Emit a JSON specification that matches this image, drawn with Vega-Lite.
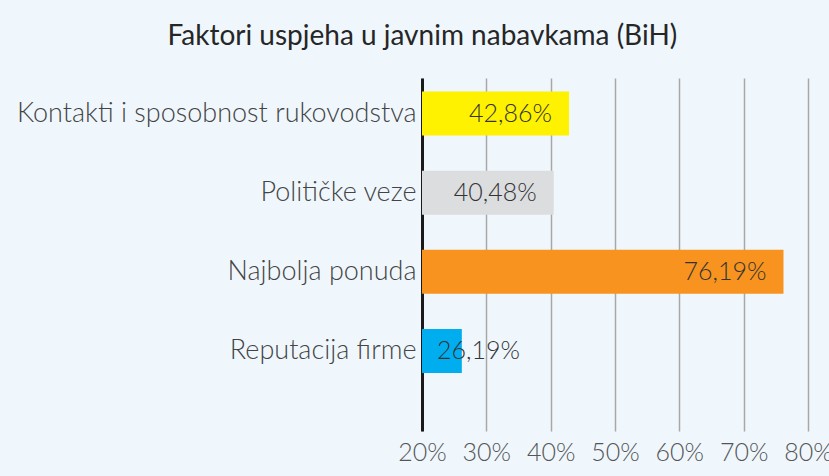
{
  "$schema": "https://vega.github.io/schema/vega-lite/v6.json",
  "autosize": "none",
  "width": 386,
  "height": 353,
  "padding": {"left": 422, "top": 78, "right": 21, "bottom": 45},
  "background": "#eff7fd",
  "config": {
    "view": {"stroke": null},
    "font": "Lato",
    "locale": {"number": {"decimal": ",", "thousands": ".", "grouping": [3], "currency": ["", " KM"]}}
  },
  "title": {
    "text": "Faktori uspjeha u javnim nabavkama (BiH)",
    "fontSize": 28,
    "fontWeight": 400,
    "font": "Lato",
    "color": "#262626",
    "anchor": "middle",
    "frame": "bounds",
    "offset": 27,
    "dx": -2
  },
  "data": {
    "values": [
      {"faktor": "Kontakti i sposobnost rukovodstva", "udio": 0.4286},
      {"faktor": "Političke veze", "udio": 0.4048},
      {"faktor": "Najbolja ponuda", "udio": 0.7619},
      {"faktor": "Reputacija firme", "udio": 0.2619}
    ]
  },
  "encoding": {
    "y": {
      "field": "faktor",
      "type": "nominal",
      "sort": null,
      "title": null,
      "scale": {"paddingInner": 0.444, "paddingOuter": 0.453, "align": 0.19},
      "axis": {
        "domain": true,
        "domainColor": "#1a1a1a",
        "domainWidth": 3,
        "ticks": false,
        "labelPadding": 6,
        "labelFontSize": 27,
        "labelFontWeight": 300,
        "labelColor": "#444444",
        "labelLimit": 500
      }
    }
  },
  "layer": [
    {
      "mark": {"type": "bar"},
      "encoding": {
        "x": {
          "field": "udio",
          "type": "quantitative",
          "title": null,
          "scale": {"domain": [0.2, 0.8], "zero": false, "nice": false},
          "axis": {
            "values": [0.2, 0.3, 0.4, 0.5, 0.6, 0.7, 0.8],
            "format": ".0%",
            "domain": false,
            "ticks": false,
            "grid": true,
            "gridColor": "#a8a8a8",
            "gridWidth": 1.5,
            "labelPadding": 9,
            "labelFontSize": 25,
            "labelFontWeight": 300,
            "labelColor": "#555555",
            "labelOverlap": false,
            "labelFlush": false,
            "labelBound": false
          }
        },
        "x2": {"datum": 0.2},
        "color": {
          "field": "faktor",
          "type": "nominal",
          "legend": null,
          "scale": {
            "domain": ["Kontakti i sposobnost rukovodstva", "Političke veze", "Najbolja ponuda", "Reputacija firme"],
            "range": ["#fff200", "#dcdddf", "#f7931e", "#00aeef"]
          }
        }
      }
    },
    {
      "transform": [{"filter": "datum.udio > 0.3"}],
      "mark": {"type": "text", "align": "right", "dx": -17, "fontSize": 25, "fontWeight": 300, "color": "#333333"},
      "encoding": {
        "x": {"field": "udio", "type": "quantitative"},
        "text": {"field": "udio", "type": "quantitative", "format": ".2%"}
      }
    },
    {
      "transform": [{"filter": "datum.udio <= 0.3"}],
      "mark": {"type": "text", "align": "left", "dx": 15, "fontSize": 25, "fontWeight": 300, "color": "#333333"},
      "encoding": {
        "x": {"datum": 0.2},
        "text": {"field": "udio", "type": "quantitative", "format": ".2%"}
      }
    }
  ]
}
